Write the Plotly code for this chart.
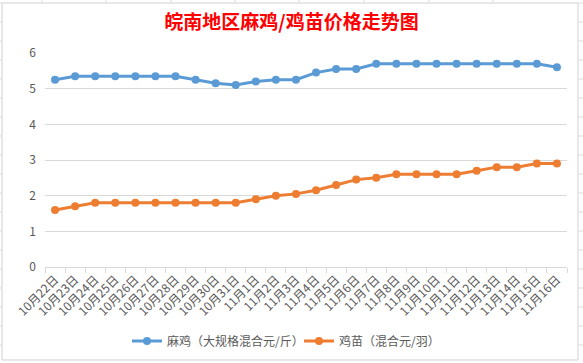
import plotly.graph_objects as go

dates = ["10月22日", "10月23日", "10月24日", "10月25日", "10月26日", "10月27日", "10月28日",
         "10月29日", "10月30日", "10月31日", "11月1日", "11月2日", "11月3日", "11月4日",
         "11月5日", "11月6日", "11月7日", "11月8日", "11月9日", "11月10日", "11月11日",
         "11月12日", "11月13日", "11月14日", "11月15日", "11月16日"]

maji = [5.25, 5.35, 5.35, 5.35, 5.35, 5.35, 5.35, 5.25, 5.15, 5.1, 5.2, 5.25, 5.25, 5.45,
        5.55, 5.55, 5.7, 5.7, 5.7, 5.7, 5.7, 5.7, 5.7, 5.7, 5.7, 5.6]

jimiao = [1.6, 1.7, 1.8, 1.8, 1.8, 1.8, 1.8, 1.8, 1.8, 1.8, 1.9, 2.0, 2.05, 2.15,
          2.3, 2.45, 2.5, 2.6, 2.6, 2.6, 2.6, 2.7, 2.8, 2.8, 2.9, 2.9]

series_names = ["麻鸡（大规格混合元/斤）", "鸡苗（混合元/羽）"]
title_text = "皖南地区麻鸡/鸡苗价格走势图"

W, H = 583, 363
L, R, T, B = 45, 16, 53, 96
pw, ph = W - L - R, H - T - B

def px_x(x):
    return (x - L) / pw

def px_y(y):
    return (H - B - y) / ph

fig = go.Figure()
fig.add_trace(go.Scatter(x=dates, y=maji, mode="lines+markers", name=series_names[0],
                         line=dict(color="#5B9BD5", width=3),
                         marker=dict(color="#5B9BD5", size=8), legend="legend"))
fig.add_trace(go.Scatter(x=dates, y=jimiao, mode="lines+markers", name=series_names[1],
                         line=dict(color="#ED7D31", width=3),
                         marker=dict(color="#ED7D31", size=8), legend="legend2"))

shapes = []
# chart-area border
shapes.append(dict(type="rect", xref="paper", yref="paper",
                   x0=px_x(2), x1=px_x(578), y0=px_y(360), y1=px_y(3),
                   line=dict(color="#D0D0D0", width=1), layer="below"))
# spreadsheet grid lines outside chart area
for xv in [42, 106, 171, 235, 299, 364, 429, 493]:
    shapes.append(dict(type="line", xref="paper", yref="paper",
                       x0=px_x(xv), x1=px_x(xv), y0=px_y(0), y1=px_y(2.5),
                       line=dict(color="#D9D9D9", width=1)))
for k in range(20):
    yv = 3 + 19 * k
    if yv > 362:
        break
    shapes.append(dict(type="line", xref="paper", yref="paper",
                       x0=px_x(578.5), x1=px_x(583), y0=px_y(yv), y1=px_y(yv),
                       line=dict(color="#D9D9D9", width=1)))
    shapes.append(dict(type="line", xref="paper", yref="paper",
                       x0=px_x(0), x1=px_x(1.5), y0=px_y(yv), y1=px_y(yv),
                       line=dict(color="#D9D9D9", width=1)))

leg_common = dict(orientation="h", xanchor="left", xref="container",
                  y=1 - 341 / H, yanchor="middle", yref="container",
                  font=dict(size=12, color="#595959"), itemwidth=30,
                  bgcolor="rgba(0,0,0,0)")

fig.update_layout(
    width=W, height=H,
    margin=dict(l=L, r=R, t=T, b=B, pad=0, autoexpand=False),
    paper_bgcolor="white", plot_bgcolor="white",
    font=dict(family="Noto Sans CJK SC, Microsoft YaHei, sans-serif", color="#595959", size=12),
    title=dict(text="<b>" + title_text + "</b>", x=0.5, xanchor="center",
               y=1 - 22 / H, yanchor="middle", yref="container",
               font=dict(color="#FF0000", size=19, family="Noto Sans CJK SC, sans-serif")),
    xaxis=dict(type="category", tickangle=-45, showgrid=False, automargin=False,
               showline=True, linecolor="#D9D9D9", linewidth=1,
               ticks="outside", tickson="boundaries", ticklen=5, tickcolor="#D9D9D9",
               tickfont=dict(size=12, color="#595959"), range=[-0.5, 25.5]),
    yaxis=dict(range=[0, 6], dtick=1, showgrid=True, gridcolor="#D9D9D9", gridwidth=1,
               zeroline=False, showline=False, ticks="", ticklabelstandoff=8, automargin=False,
               tickfont=dict(size=12, color="#595959")),
    legend=dict(x=127 / W, **leg_common),
    legend2=dict(x=299 / W, **leg_common),
    showlegend=True,
    shapes=shapes,
)

fig.write_html("out.html", config={"displayModeBar": False},
               post_script="document.body.style.margin='0';document.body.style.overflow='hidden';")
